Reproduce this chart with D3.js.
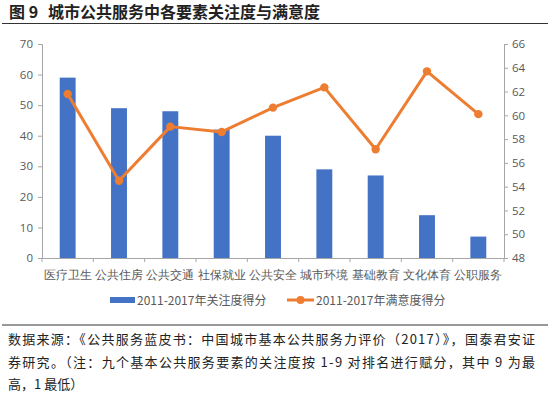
<!DOCTYPE html>
<html><head><meta charset="utf-8">
<script src="https://cdn.jsdelivr.net/npm/d3@7"></script>
<style>
body{margin:0;background:#fff;}
svg{display:block;font-family:"Noto Sans CJK SC","Noto Sans",sans-serif;}
</style></head>
<body>
<svg id="c" width="550" height="399"></svg>
<script>
const categories = ["医疗卫生","公共住房","公共交通","社保就业","公共安全","城市环境","基础教育","文化体育","公职服务"];
const attention = [59, 49, 48, 42, 40, 29, 27, 14, 7];
const satisfaction = [61.8, 54.5, 59.05, 58.6, 60.65, 62.35, 57.15, 63.7, 60.1];
const leftTicks = [0,10,20,30,40,50,60,70];
const rightTicks = [48,50,52,54,56,58,60,62,64,66];
const seriesNames = ["2011-2017年关注度得分","2011-2017年满意度得分"];
const titleNum = "图 9";
const titleText = "城市公共服务中各要素关注度与满意度";
const noteLines = [
 "数据来源：《公共服务蓝皮书：中国城市基本公共服务力评价（2017）》，国泰君安证",
 "券研究。（注：九个基本公共服务要素的关注度按 1-9 对排名进行赋分，其中 9 为最",
 "高，1 最低）"
];

const svg = d3.select("#c");
const blue = "#4472C4", orange = "#ED7D31", grey = "#595959", axisC = "#A6A6A6";
const x0 = 42, x1 = 504, yTop = 44, yBot = 258;

// title
svg.append("text").attr("x",9).attr("y",18).attr("font-size",16).attr("font-weight","bold")
  .attr("fill","#222").text(titleNum);
svg.append("text").attr("x",48).attr("y",18).attr("font-size",16).attr("font-weight","bold")
  .attr("fill","#222").attr("textLength",272).attr("lengthAdjust","spacing").text(titleText);
svg.append("line").attr("x1",2).attr("x2",548).attr("y1",23.5).attr("y2",23.5).attr("stroke","#333").attr("stroke-width",1);

const x = d3.scaleBand().domain(categories).range([x0,x1]).paddingInner(0).paddingOuter(0);
const yL = d3.scaleLinear().domain([0,70]).range([yBot,yTop]);
const yR = d3.scaleLinear().domain([48,66]).range([yBot,yTop]);

// bars
svg.append("g").selectAll("rect").data(attention).join("rect")
  .attr("x",(d,i)=>x(categories[i])+x.bandwidth()*0.345)
  .attr("width",x.bandwidth()*0.31)
  .attr("y",d=>yL(d)).attr("height",d=>yBot-yL(d)).attr("fill",blue);

// left axis
const gl = svg.append("g").attr("transform",`translate(${x0},0)`)
  .call(d3.axisLeft(yL).tickValues(leftTicks).tickSize(4).tickPadding(5));
gl.select(".domain").attr("stroke",axisC);
gl.selectAll(".tick line").attr("stroke",axisC);
gl.selectAll("text").attr("fill",grey).attr("font-size",11.5).attr("font-family","'Open Sans',sans-serif");

// right axis
const gr = svg.append("g").attr("transform",`translate(${x1},0)`)
  .call(d3.axisRight(yR).tickValues(rightTicks).tickSize(4).tickPadding(4));
gr.select(".domain").attr("stroke",axisC);
gr.selectAll(".tick line").attr("stroke",axisC);
gr.selectAll("text").attr("fill",grey).attr("font-size",11.5).attr("font-family","'Open Sans',sans-serif");

// bottom axis
const gb = svg.append("g").attr("transform",`translate(0,${yBot})`)
  .call(d3.axisBottom(x).tickSize(0).tickPadding(12));
gb.select(".domain").attr("stroke",axisC);
gb.selectAll("text").attr("fill",grey).attr("font-size",12);
const bounds = categories.map(c=>x(c)).concat([x1]);
svg.append("g").selectAll("line").data(bounds).join("line")
  .attr("x1",d=>d).attr("x2",d=>d).attr("y1",yBot).attr("y2",yBot+4).attr("stroke",axisC);

// line
const line = d3.line().x((d,i)=>x(categories[i])+x.bandwidth()/2).y(d=>yR(d));
svg.append("path").datum(satisfaction).attr("d",line).attr("fill","none")
  .attr("stroke",orange).attr("stroke-width",3).attr("stroke-linejoin","round");
svg.append("g").selectAll("circle").data(satisfaction).join("circle")
  .attr("cx",(d,i)=>x(categories[i])+x.bandwidth()/2).attr("cy",d=>yR(d)).attr("r",4.2).attr("fill",orange);

// legend
const ly = 300;
svg.append("rect").attr("x",110).attr("y",ly-3).attr("width",25).attr("height",6).attr("fill",blue);
svg.append("text").attr("x",137).attr("y",ly+4.5).attr("font-size",12).attr("fill",grey).text(seriesNames[0]);
svg.append("line").attr("x1",287).attr("x2",314).attr("y1",ly).attr("y2",ly).attr("stroke",orange).attr("stroke-width",3);
svg.append("circle").attr("cx",300.5).attr("cy",ly).attr("r",4).attr("fill",orange);
svg.append("text").attr("x",316).attr("y",ly+4.5).attr("font-size",12).attr("fill",grey).text(seriesNames[1]);

// footnote
svg.append("line").attr("x1",2).attr("x2",548).attr("y1",325).attr("y2",325).attr("stroke","#333").attr("stroke-width",1);
const noteY = [344, 367, 389];
noteLines.forEach((t,i)=>{
  const el = svg.append("text").attr("x",8).attr("y",noteY[i]).attr("font-size",13).attr("fill","#222").text(t);
  if(i<2) el.attr("textLength",527).attr("lengthAdjust","spacing");
});
</script>
</body></html>
